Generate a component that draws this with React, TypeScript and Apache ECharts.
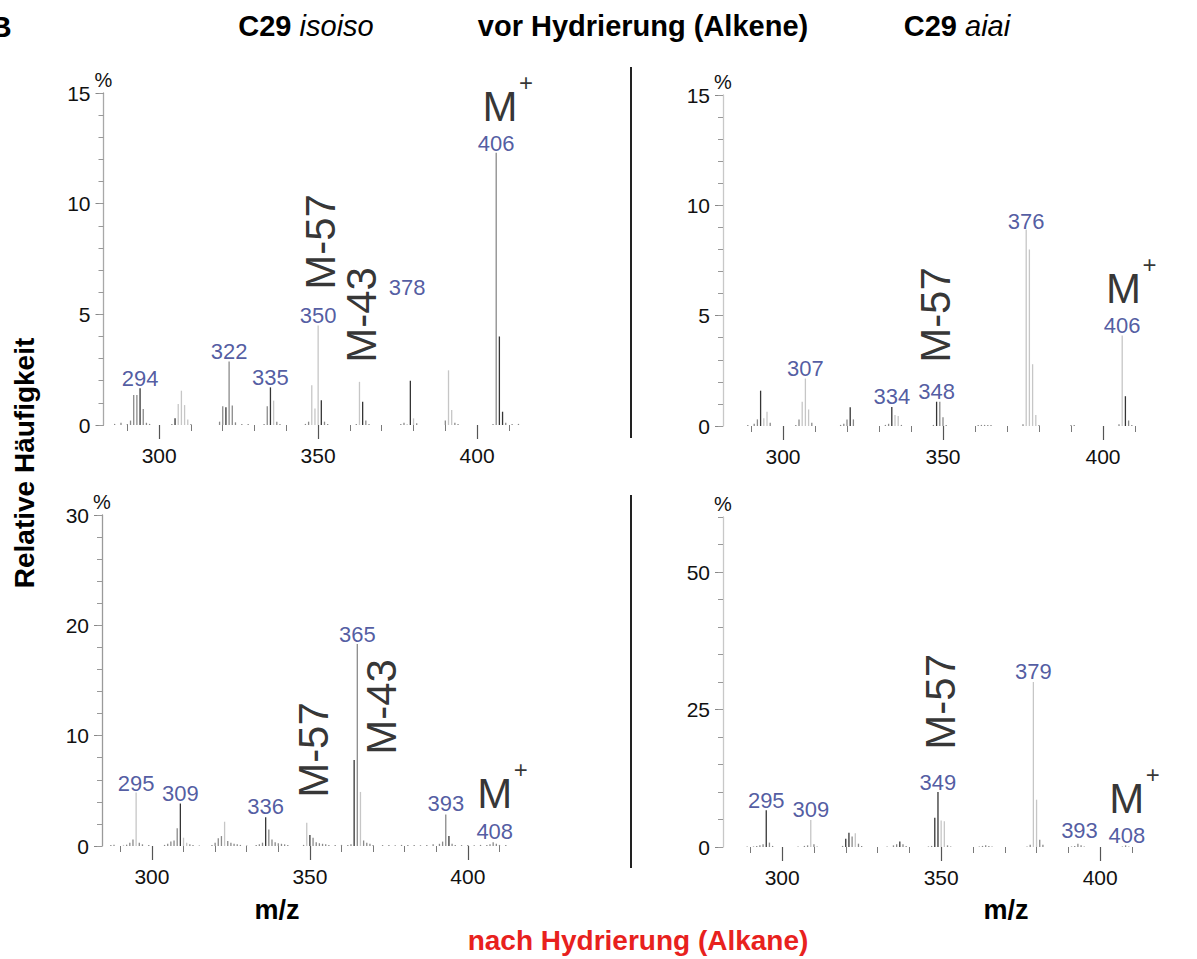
import { useEffect, useRef } from "react";
import * as echarts from "echarts";

type Stick = [number, number, number]; // m/z, relative abundance %, shade (0 dark, 1 medium, 2 light)
type Tag = [number, number, string]; // m/z, anchor %, text
type Frag = [number, number, string, number]; // m/z, centre %, text, rotation

const xMinorTicks = [290, 300, 310, 320, 330, 340, 350, 360, 370, 380, 390, 400, 410];
const xMajorTicks = [300, 350, 400];

const yMajor15 = [0, 5, 10, 15];
const yMinor15 = [0, 1, 2, 3, 4, 5, 6, 7, 8, 9, 10, 11, 12, 13, 14, 15];
const yMajor30 = [0, 10, 20, 30];
const yMinor30 = [0, 2, 4, 6, 8, 10, 12, 14, 16, 18, 20, 22, 24, 26, 28, 30];
const yMajor60 = [0, 25, 50];
const yMinor60 = [0, 5, 10, 15, 20, 25, 30, 35, 40, 45, 50, 55, 60];

// C29 isoiso, before hydrogenation (alkenes)
const isoisoAlkeneSticks: Stick[] = [
  [286, 0.05, 1], [288, 0.1, 1], [290, 0.05, 1], [291, 0.2, 1], [292, 1.36, 1], [293, 1.36, 1], [294, 1.66, 0], [295, 0.72, 1], [296, 0.1, 1], [297, 0.05, 1],
  [304, 0.05, 1], [305, 0.3, 0], [306, 0.95, 2], [307, 1.55, 2], [308, 0.9, 2], [309, 0.25, 2], [310, 0.05, 1],
  [319, 0.15, 1], [320, 0.85, 1], [321, 0.8, 0], [322, 2.87, 1], [323, 0.88, 1], [324, 0.12, 1], [326, 0.05, 1], [328, 0.05, 1],
  [333, 0.05, 1], [334, 0.85, 1], [335, 1.7, 0], [336, 1.1, 2], [337, 0.15, 1], [338, 0.05, 1],
  [346, 0.05, 1], [347, 0.15, 1], [348, 1.8, 2], [349, 0.75, 2], [350, 4.5, 2], [351, 1.12, 0], [352, 0.15, 1], [353, 0.05, 1],
  [362, 0.05, 1], [363, 1.95, 2], [364, 1.05, 0], [365, 0.2, 1], [366, 0.05, 1],
  [376, 0.05, 1], [377, 0.1, 1], [378, 0.05, 2], [379, 2.0, 0], [380, 0.3, 2], [381, 0.08, 1],
  [390, 0.2, 1], [391, 2.47, 2], [392, 0.68, 2], [393, 0.1, 1], [394, 0.05, 1],
  [405, 0.05, 1], [406, 12.3, 1], [407, 4.0, 0], [408, 0.6, 0], [409, 0.1, 1], [411, 0.05, 1], [413, 0.05, 1],
];
const isoisoAlkeneTags: Tag[] = [
  [294, 1.66, "294"], [322, 2.87, "322"], [335, 1.7, "335"], [350, 4.5, "350"], [378, 5.8, "378"], [406, 12.3, "406"],
];
const isoisoAlkeneFrags: Frag[] = [
  [350.6, 8.27, "M-57", 90], [363.7, 4.97, "M-43", 90], [407.2, 14.4, "M", 0],
];

// C29 aiai, before hydrogenation (alkenes)
const aiaiAlkeneSticks: Stick[] = [
  [289, 0.05, 1], [291, 0.1, 1], [292, 0.3, 1], [293, 1.6, 0], [294, 0.35, 2], [295, 0.65, 2], [296, 0.15, 1],
  [304, 0.05, 1], [305, 0.3, 1], [306, 1.1, 2], [307, 2.15, 2], [308, 0.75, 2], [309, 0.15, 1],
  [318, 0.05, 1], [319, 0.1, 1], [320, 0.3, 1], [321, 0.85, 0], [322, 0.3, 1],
  [332, 0.05, 1], [333, 0.1, 1], [334, 0.86, 0], [335, 0.5, 2], [336, 0.45, 2], [337, 0.05, 1],
  [347, 0.05, 1], [348, 1.1, 0], [349, 1.1, 1], [350, 0.4, 1], [351, 0.05, 1],
  [361, 0.05, 1], [362, 0.05, 1], [363, 0.05, 1], [364, 0.05, 1], [365, 0.05, 1],
  [375, 0.08, 1], [376, 8.9, 2], [377, 8.0, 2], [378, 2.8, 2], [379, 0.5, 2], [380, 0.05, 1],
  [390, 0.05, 1], [391, 0.05, 1],
  [405, 0.08, 1], [406, 4.1, 2], [407, 1.35, 0], [408, 0.25, 1], [409, 0.05, 1],
];
const aiaiAlkeneTags: Tag[] = [
  [307, 2.17, "307"], [334, 0.9, "334"], [348, 1.12, "348"], [376, 8.84, "376"], [406, 4.14, "406"],
];
const aiaiAlkeneFrags: Frag[] = [
  [347.5, 5.03, "M-57", 90], [406.4, 6.24, "M", 0],
];

// C29 isoiso, after hydrogenation (alkanes)
const isoisoAlkaneSticks: Stick[] = [
  [287, 0.1, 1], [288, 0.12, 1], [291, 0.1, 2], [292, 0.12, 1], [293, 0.3, 1], [294, 0.6, 1], [295, 4.85, 2], [296, 0.3, 1], [297, 0.15, 1], [299, 0.08, 1],
  [304, 0.1, 1], [305, 0.2, 1], [306, 0.4, 1], [307, 0.5, 1], [308, 1.6, 1], [309, 3.85, 0], [310, 0.75, 2], [311, 0.3, 2], [312, 0.15, 1], [313, 0.1, 1], [315, 0.05, 1],
  [319, 0.1, 1], [320, 0.3, 1], [321, 0.7, 1], [322, 0.9, 1], [323, 2.2, 2], [324, 0.45, 1], [325, 0.3, 1], [326, 0.2, 1], [327, 0.15, 1], [328, 0.1, 1], [330, 0.05, 1],
  [333, 0.1, 1], [334, 0.15, 1], [335, 0.3, 1], [336, 2.6, 0], [337, 1.5, 1], [338, 0.6, 1], [339, 0.35, 1], [340, 0.25, 1], [341, 0.2, 1], [342, 0.15, 1], [343, 0.1, 1],
  [348, 0.1, 1], [349, 2.1, 2], [350, 1.0, 0], [351, 0.75, 1], [352, 0.35, 1], [353, 0.25, 1], [354, 0.2, 1], [355, 0.15, 1], [356, 0.1, 1], [358, 0.08, 1], [360, 0.1, 1], [362, 0.08, 1],
  [363, 0.15, 1], [364, 7.8, 0], [365, 18.3, 1], [366, 4.9, 2], [367, 0.5, 1], [368, 0.3, 1], [369, 0.2, 1], [370, 0.1, 1],
  [373, 0.08, 1], [375, 0.1, 1], [377, 0.07, 1], [379, 0.1, 1], [381, 0.08, 1], [383, 0.1, 1], [385, 0.07, 1], [387, 0.1, 1], [389, 0.15, 1],
  [391, 0.2, 1], [392, 0.4, 1], [393, 2.85, 1], [394, 0.9, 0], [395, 0.2, 1], [396, 0.1, 1], [398, 0.08, 1], [400, 0.1, 1], [402, 0.07, 1], [404, 0.1, 1],
  [406, 0.1, 1], [407, 0.15, 1], [408, 0.35, 1], [409, 0.2, 1], [410, 0.1, 1], [412, 0.08, 1],
];
const isoisoAlkaneTags: Tag[] = [
  [295, 4.8, "295"], [309, 3.9, "309"], [336, 2.7, "336"], [365, 18.3, "365"], [393, 3.0, "393"], [408.5, 0.45, "408"],
];
const isoisoAlkaneFrags: Frag[] = [
  [351.05, 8.7, "M-57", 90], [372.7, 12.6, "M-43", 90], [408.5, 4.78, "M", 0],
];

// C29 aiai, after hydrogenation (alkanes)
const aiaiAlkaneSticks: Stick[] = [
  [289, 0.1, 1], [291, 0.1, 1], [292, 0.2, 1], [293, 0.3, 1], [294, 0.5, 1], [295, 6.7, 0], [296, 0.8, 1], [297, 0.2, 1],
  [305, 0.1, 1], [307, 0.2, 1], [308, 0.3, 1], [309, 4.9, 2], [310, 0.5, 1], [311, 0.1, 1],
  [319, 0.2, 1], [320, 1.5, 0], [321, 2.6, 0], [322, 1.9, 1], [323, 2.5, 2], [324, 0.6, 1], [325, 0.2, 1],
  [333, 0.1, 1], [335, 0.3, 1], [336, 0.5, 1], [337, 1.0, 0], [338, 0.5, 1], [339, 0.2, 1],
  [346, 0.1, 1], [347, 0.2, 1], [348, 5.3, 0], [349, 10.0, 0], [350, 4.8, 2], [351, 4.7, 2], [352, 0.3, 1], [353, 0.1, 1],
  [362, 0.1, 1], [363, 0.2, 1], [364, 0.3, 1], [365, 0.2, 1], [366, 0.1, 1],
  [377, 0.1, 1], [378, 0.4, 1], [379, 30.0, 2], [380, 8.6, 2], [381, 1.3, 1], [382, 0.4, 1],
  [391, 0.1, 1], [392, 0.2, 1], [393, 0.6, 1], [394, 0.3, 1], [395, 0.1, 1],
  [407, 0.1, 1], [408, 0.3, 1], [409, 0.1, 1],
];
const aiaiAlkaneTags: Tag[] = [
  [295, 6.8, "295"], [309, 5.15, "309"], [349, 10.0, "349"], [379, 30.2, "379"], [393.5, 1.2, "393"], [408.4, 0.4, "408"],
];
const aiaiAlkaneFrags: Frag[] = [
  [349.7, 26.4, "M-57", 90], [408.4, 8.85, "M", 0],
];

const FONT = '"Liberation Sans", Arial, Helvetica, sans-serif';
const SHADES = ["#353535", "#8a8a8a", "#c6c6c6"];

export default function App() {
  const ref = useRef<HTMLDivElement>(null);

  useEffect(() => {
    if (!ref.current) return;
    const chart = echarts.init(ref.current, undefined, { renderer: "svg" });

    const panels = [
      { sticks: isoisoAlkeneSticks, tags: isoisoAlkeneTags, frags: isoisoAlkeneFrags, xMin: 282.5, xMax: 416, yMax: 15, yMajor: yMajor15, yMinor: yMinor15, grid: { left: 103.5, top: 93, width: 424.5, height: 332 }, axisColor: "#a8a8a8", labelMargin: 20 },
      { sticks: aiaiAlkeneSticks, tags: aiaiAlkeneTags, frags: aiaiAlkeneFrags, xMin: 281.25, xMax: 413, yMax: 15, yMajor: yMajor15, yMinor: yMinor15, grid: { left: 723, top: 95, width: 421.6, height: 331 }, axisColor: "#c8c8c8", labelMargin: 20 },
      { sticks: isoisoAlkaneSticks, tags: isoisoAlkaneTags, frags: isoisoAlkaneFrags, xMin: 284.2, xMax: 417, yMax: 30, yMajor: yMajor30, yMinor: yMinor30, grid: { left: 102, top: 515, width: 419.6, height: 331 }, axisColor: "#9a9a9a", labelMargin: 20 },
      { sticks: aiaiAlkaneSticks, tags: aiaiAlkaneTags, frags: aiaiAlkaneFrags, xMin: 281.4, xMax: 413, yMax: 60, yMajor: yMajor60, yMinor: yMinor60, grid: { left: 723, top: 517, width: 418.5, height: 330 }, axisColor: "#c8c8c8", labelMargin: 20 },
    ];

    const grid: any[] = [];
    const xAxis: any[] = [];
    const yAxis: any[] = [];
    const series: any[] = [];

    panels.forEach((p, i) => {
      grid.push({ ...p.grid, containLabel: false });
      // minor x ticks
      xAxis.push({
        gridIndex: i, type: "value", position: "bottom", min: p.xMin, max: p.xMax,
        axisLine: { show: false, onZero: false }, splitLine: { show: false },
        axisTick: { show: true, customValues: xMinorTicks, length: 6, lineStyle: { color: "#7a7a7a", width: 1 } },
        axisLabel: { show: false },
      });
      // major x ticks + labels
      xAxis.push({
        gridIndex: i, type: "value", position: "bottom", min: p.xMin, max: p.xMax,
        axisLine: { show: false, onZero: false }, splitLine: { show: false },
        axisTick: { show: true, customValues: xMajorTicks, length: 14, lineStyle: { color: "#555", width: 1.2 } },
        axisLabel: { show: true, customValues: xMajorTicks, margin: p.labelMargin, fontSize: 21, color: "#111", fontFamily: FONT },
      });
      yAxis.push({
        gridIndex: i, type: "value", position: "left", min: 0, max: p.yMax,
        axisLine: { show: true, onZero: false, lineStyle: { color: p.axisColor, width: 1.3 } },
        splitLine: { show: false },
        axisTick: { show: true, customValues: p.yMajor, length: 8, lineStyle: { color: "#888", width: 1 } },
        axisLabel: { show: true, customValues: p.yMajor, margin: 13, fontSize: 21, color: "#111", fontFamily: FONT },
        name: "%", nameLocation: "end", nameGap: 3,
        nameTextStyle: { fontSize: 20, color: "#111", fontFamily: FONT, align: "center", verticalAlign: "bottom" },
      });
      yAxis.push({
        gridIndex: i, type: "value", position: "left", min: 0, max: p.yMax,
        axisLine: { show: false, onZero: false }, splitLine: { show: false },
        axisTick: { show: true, customValues: p.yMinor, length: 5, lineStyle: { color: "#999", width: 1 } },
        axisLabel: { show: false },
      });

      series.push({
        type: "custom",
        xAxisIndex: 2 * i, yAxisIndex: 2 * i,
        data: p.sticks,
        encode: { x: 0, y: 1 },
        silent: true,
        renderItem: (_params: any, api: any) => {
          const mz = api.value(0);
          const v = api.value(1);
          const s = api.value(2);
          const a = api.coord([mz, 0]);
          const b = api.coord([mz, v]);
          return {
            type: "line",
            shape: { x1: a[0], y1: a[1], x2: b[0], y2: b[1] },
            style: { stroke: SHADES[s] || SHADES[1], lineWidth: 1.3 },
          };
        },
      });

      series.push({
        type: "scatter",
        xAxisIndex: 2 * i, yAxisIndex: 2 * i,
        symbolSize: 1,
        itemStyle: { color: "rgba(0,0,0,0)" },
        silent: true,
        data: p.tags.map((t) => ({ value: [t[0], t[1]], name: t[2] })),
        label: {
          show: true, position: "top", distance: 0, formatter: "{b}",
          color: "#26328a", fontSize: 22, fontFamily: FONT, lineHeight: 18,
        },
      });

      series.push({
        type: "scatter",
        xAxisIndex: 2 * i, yAxisIndex: 2 * i,
        symbolSize: 1,
        itemStyle: { color: "rgba(0,0,0,0)" },
        silent: true,
        data: p.frags.map((f) => ({ value: [f[0], f[1]], name: f[2], label: { rotate: f[3] } })),
        label: {
          show: true, position: "inside", formatter: "{b}",
          color: "#000", fontSize: 42, fontFamily: FONT, textBorderWidth: 0,
        },
      });

      // superscript "+" of the molecular ion, attached to the "M" annotation
      series.push({
        type: "scatter",
        xAxisIndex: 2 * i, yAxisIndex: 2 * i,
        symbolSize: 1,
        itemStyle: { color: "rgba(0,0,0,0)" },
        silent: true,
        data: p.frags.filter((f) => f[2] === "M").map((f) => ({ value: [f[0], f[1]], name: "+" })),
        label: {
          show: true, position: "inside", formatter: "{b}", offset: [26, -24],
          color: "#000", fontSize: 24, fontFamily: FONT, textBorderWidth: 0,
        },
      });
    });

    const bold = (size: number) => `bold ${size}px ${FONT}`;

    const graphic: any[] = [
      { type: "text", x: -10, y: 26, style: { text: "B", font: bold(30), fill: "#000", textAlign: "left", textVerticalAlign: "middle" } },
      {
        type: "text", x: 306, y: 26,
        style: {
          text: "{b|C29 }{i|isoiso}", textAlign: "center", textVerticalAlign: "middle",
          rich: { b: { fontSize: 29, fontWeight: "bold", fontFamily: FONT, fill: "#000" }, i: { fontSize: 29, fontStyle: "italic", fontFamily: FONT, fill: "#000" } },
        },
      },
      { type: "text", x: 643, y: 26, style: { text: "vor Hydrierung (Alkene)", font: bold(29), fill: "#000", textAlign: "center", textVerticalAlign: "middle" } },
      {
        type: "text", x: 957, y: 26,
        style: {
          text: "{b|C29 }{i|aiai}", textAlign: "center", textVerticalAlign: "middle",
          rich: { b: { fontSize: 29, fontWeight: "bold", fontFamily: FONT, fill: "#000" }, i: { fontSize: 29, fontStyle: "italic", fontFamily: FONT, fill: "#000" } },
        },
      },
      { type: "text", x: 24, y: 463, rotation: Math.PI / 2, style: { text: "Relative Häufigkeit", font: bold(28), fill: "#000", textAlign: "center", textVerticalAlign: "middle" } },
      { type: "text", x: 277, y: 910, style: { text: "m/z", font: bold(27), fill: "#000", textAlign: "center", textVerticalAlign: "middle" } },
      { type: "text", x: 1006, y: 910, style: { text: "m/z", font: bold(27), fill: "#000", textAlign: "center", textVerticalAlign: "middle" } },
      { type: "text", x: 638, y: 940, style: { text: "nach Hydrierung (Alkane)", font: bold(28), fill: "#e8211d", textAlign: "center", textVerticalAlign: "middle" } },
      { type: "line", shape: { x1: 631, y1: 67, x2: 631, y2: 438 }, style: { stroke: "#222", lineWidth: 2 } },
      { type: "line", shape: { x1: 631, y1: 495, x2: 631, y2: 868 }, style: { stroke: "#222", lineWidth: 2 } },
    ];

    chart.setOption({
      animation: false,
      backgroundColor: "#fff",
      grid, xAxis, yAxis, series, graphic,
    });

    return () => chart.dispose();
  }, []);

  return <div ref={ref} style={{ position: "absolute", left: 0, top: 0, width: 1197, height: 959 }} />;
}
